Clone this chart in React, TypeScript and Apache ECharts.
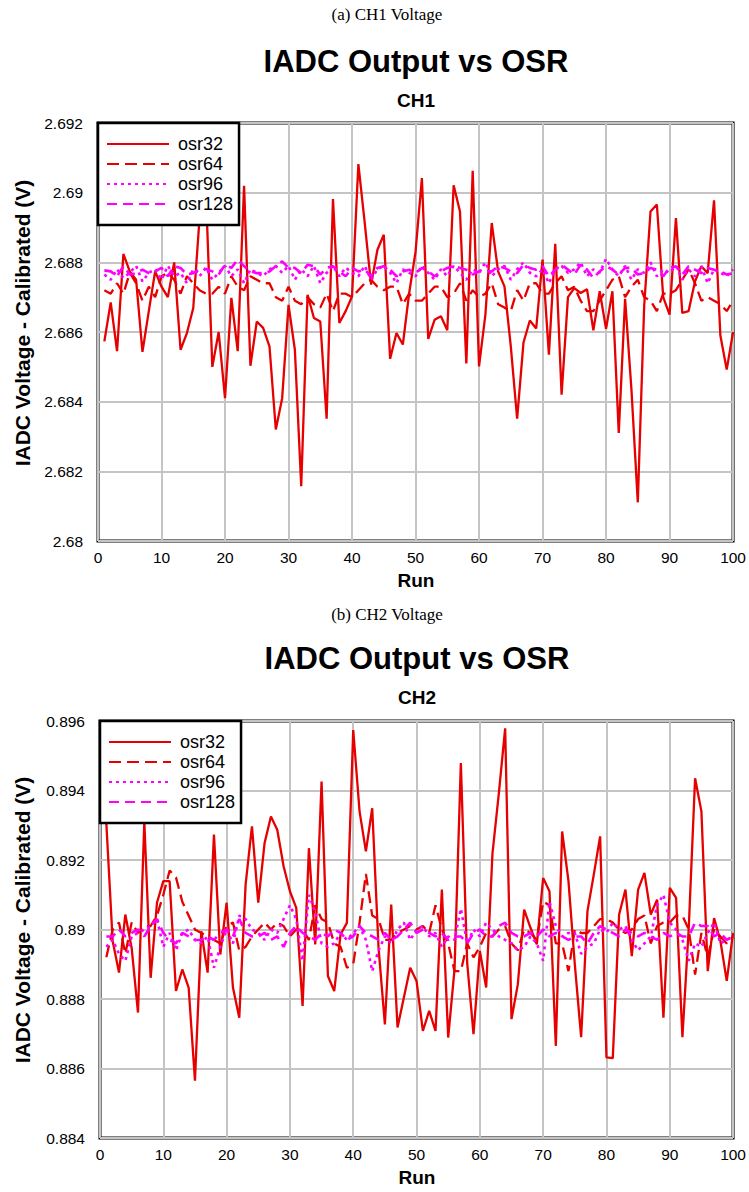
import React, { useEffect, useRef } from "react";
import * as echarts from "echarts";

const runs: number[] = Array.from({ length: 100 }, (_, i) => i + 1);
const seriesNames = ["osr32", "osr64", "osr96", "osr128"];
const xTicks = { min: 0, max: 100, interval: 10 };
const ch1Range = { min: 2.68, max: 2.692, interval: 0.002 };
const ch2Range = { min: 0.884, max: 0.896, interval: 0.002 };

const ch1Osr32 = [
  2.68573, 2.68685, 2.68545, 2.68824, 2.68774, 2.6875, 2.68543, 2.6866, 2.68774, 2.6873,
  2.687, 2.688, 2.68549, 2.68597, 2.68669, 2.6893, 2.69, 2.685, 2.686, 2.6841,
  2.68698, 2.68545, 2.6902, 2.68503, 2.6863, 2.68612, 2.68559, 2.6832, 2.6841, 2.68678,
  2.68549, 2.68157, 2.68707, 2.6864, 2.6863, 2.68351, 2.68982, 2.68626, 2.6866, 2.68702,
  2.69082, 2.68913, 2.68736, 2.68836, 2.68879, 2.68523, 2.68597, 2.68564, 2.68712, 2.6883,
  2.69042, 2.6858, 2.68635, 2.68645, 2.68605, 2.69021, 2.68946, 2.6851, 2.69063, 2.68501,
  2.6865, 2.68913, 2.68774, 2.68731, 2.68559, 2.68351, 2.6857, 2.68633, 2.6861, 2.68808,
  2.68535, 2.68853, 2.6842, 2.687, 2.68726, 2.68712, 2.68723, 2.68605, 2.68717, 2.68609,
  2.68717, 2.6831, 2.68695, 2.68434, 2.68111, 2.68674, 2.68946, 2.68966, 2.687, 2.6865,
  2.68927, 2.68655, 2.6866, 2.68745, 2.68789, 2.68769, 2.68978, 2.6859, 2.68492, 2.686,
];
const ch1Osr64 = [
  2.6872, 2.6871, 2.6874, 2.6871, 2.6877, 2.6874, 2.6869, 2.6873, 2.687, 2.6876,
  2.6877, 2.6875, 2.6871, 2.6876, 2.6874, 2.6872, 2.6871, 2.6871, 2.6873, 2.6871,
  2.6876, 2.6873, 2.6872, 2.6876, 2.6875, 2.6874, 2.6874, 2.687, 2.6869, 2.6873,
  2.6869, 2.6868, 2.687, 2.6868, 2.6867, 2.6871, 2.6866, 2.6871, 2.6871, 2.687,
  2.6872, 2.6874, 2.6875, 2.6873, 2.6872, 2.6873, 2.6873, 2.6868, 2.6871, 2.6869,
  2.6869, 2.6871, 2.6873, 2.6873, 2.687, 2.6871, 2.6874, 2.6869, 2.6872, 2.687,
  2.6871, 2.6874, 2.6868, 2.6867, 2.6866, 2.6872, 2.6869, 2.6874, 2.6874, 2.6871,
  2.6871, 2.6874, 2.6876, 2.6872, 2.6873, 2.6869, 2.6866, 2.6866, 2.6869, 2.6872,
  2.6875, 2.6876, 2.687, 2.6873, 2.6875, 2.687, 2.6869, 2.6866, 2.6871, 2.6871,
  2.6872, 2.6875, 2.6878, 2.6874, 2.6869, 2.687, 2.6869, 2.6868, 2.6866, 2.6869,
];
const ch1Osr96 = [
  2.68765, 2.6875, 2.6878, 2.68755, 2.6877, 2.6879, 2.68745, 2.6877, 2.6878, 2.6875,
  2.6879, 2.6876, 2.6877, 2.6874, 2.6878, 2.6876, 2.68785, 2.6875, 2.6877, 2.6879,
  2.6876, 2.6878, 2.6874, 2.6878, 2.6877, 2.6876, 2.6878, 2.6879, 2.6877, 2.6879,
  2.6875, 2.6878, 2.6876, 2.6879, 2.6874, 2.6877, 2.6879, 2.6876, 2.68785, 2.6877,
  2.6876, 2.6879, 2.6875, 2.6878, 2.6879, 2.6877, 2.6874, 2.6878, 2.6877, 2.6876,
  2.6879, 2.6877, 2.6875, 2.6878, 2.6876, 2.6879, 2.6877, 2.6875, 2.6878, 2.6877,
  2.688, 2.6876, 2.6878, 2.6879, 2.6875, 2.6878, 2.688, 2.6877, 2.6876, 2.6878,
  2.6874, 2.6878, 2.6879, 2.6877, 2.6878, 2.688, 2.6876, 2.6878, 2.6877, 2.6881,
  2.6878, 2.6876, 2.6879, 2.6875, 2.6878, 2.6877, 2.688, 2.6876, 2.6878, 2.6877,
  2.6879, 2.6875, 2.6878, 2.6876, 2.6879, 2.6874, 2.6878, 2.6877, 2.6876, 2.6878,
];
const ch1Osr128 = [
  2.68777, 2.68774, 2.6876, 2.68789, 2.68765, 2.68769, 2.68779, 2.68769, 2.68774, 2.68784,
  2.6876, 2.68789, 2.68784, 2.68765, 2.68769, 2.68779, 2.68781, 2.68774, 2.68765, 2.68793,
  2.68784, 2.68808, 2.68789, 2.68774, 2.68769, 2.68769, 2.68774, 2.68789, 2.68803, 2.68784,
  2.68784, 2.68769, 2.68793, 2.68789, 2.68765, 2.68784, 2.68789, 2.68774, 2.6876, 2.68784,
  2.68774, 2.68779, 2.6876, 2.68784, 2.68789, 2.68779, 2.6876, 2.68774, 2.68779, 2.68769,
  2.68784, 2.68774, 2.6876, 2.68774, 2.68784, 2.68789, 2.68784, 2.68779, 2.68765, 2.68774,
  2.68774, 2.68774, 2.68789, 2.68784, 2.68774, 2.68769, 2.68793, 2.68784, 2.68779, 2.68789,
  2.6876, 2.68779, 2.68793, 2.68779, 2.68765, 2.68793, 2.68779, 2.68755, 2.68774, 2.68789,
  2.68779, 2.68765, 2.68784, 2.68784, 2.68765, 2.68769, 2.68784, 2.68779, 2.6876, 2.68784,
  2.68789, 2.68765, 2.68789, 2.68779, 2.68769, 2.68784, 2.68779, 2.68774, 2.68765, 2.68769,
];

const ch2Osr32 = [
  0.89306, 0.88967, 0.88876, 0.89043, 0.88947, 0.88761, 0.89311, 0.88861, 0.89077, 0.89139,
  0.89139, 0.88823, 0.88885, 0.88833, 0.88565, 0.88995, 0.88876, 0.89273, 0.88928, 0.89077,
  0.88833, 0.88746, 0.89129, 0.89297, 0.89077, 0.89249, 0.89325, 0.89287, 0.89182, 0.8911,
  0.89062, 0.8878, 0.89234, 0.88957, 0.89426, 0.88866, 0.88823, 0.88986, 0.89019, 0.89574,
  0.8934, 0.89225, 0.89349, 0.88947, 0.88727, 0.89072, 0.88718, 0.88804, 0.8889, 0.88852,
  0.88708, 0.88766, 0.88708, 0.89115, 0.88689, 0.88885, 0.89479, 0.88904, 0.88699, 0.88938,
  0.88833, 0.8922, 0.89392, 0.89579, 0.88742, 0.88842, 0.89057, 0.89005, 0.88957, 0.89148,
  0.8911, 0.88665, 0.89282, 0.89139, 0.889, 0.8869, 0.89053, 0.89158, 0.89268, 0.88632,
  0.8863, 0.89043, 0.89115, 0.88923, 0.89115, 0.89163, 0.89043, 0.89086, 0.88746, 0.8912,
  0.89091, 0.8869, 0.89005, 0.89435, 0.8934, 0.8888, 0.89033, 0.88967, 0.88852, 0.8899,
];
const ch2Osr64 = [
  0.8892, 0.89, 0.8902, 0.8893, 0.8902, 0.8899, 0.8901, 0.8901, 0.8904, 0.891,
  0.8917, 0.8915, 0.8908, 0.8904, 0.89, 0.8899, 0.8898, 0.8897, 0.8896, 0.8901,
  0.8902, 0.8894, 0.8895, 0.8898, 0.89, 0.8902, 0.89, 0.8902, 0.8901, 0.8898,
  0.89, 0.89, 0.8897, 0.8907, 0.8903, 0.8902, 0.8896, 0.8895, 0.8889, 0.889,
  0.8902, 0.8916, 0.8904, 0.8903, 0.8897, 0.8897, 0.8899, 0.89, 0.8901, 0.89,
  0.8901, 0.8899, 0.8907, 0.89, 0.8896, 0.8888, 0.8888, 0.8896, 0.8892, 0.8895,
  0.8899, 0.8898, 0.89, 0.8901, 0.8896, 0.8894, 0.89, 0.8899, 0.8897, 0.8908,
  0.8907, 0.8896, 0.8896, 0.8888, 0.89, 0.8899, 0.8899, 0.8901, 0.8903, 0.8903,
  0.8902, 0.89, 0.8899, 0.89, 0.8903, 0.8904, 0.8896, 0.8901, 0.8902, 0.8902,
  0.8904, 0.8904, 0.89, 0.8887, 0.8899, 0.8892, 0.89, 0.8898, 0.8896, 0.8898,
];
const ch2Osr96 = [
  0.8895, 0.8897, 0.8893, 0.8891, 0.8898, 0.8899, 0.89, 0.8901, 0.8903, 0.8895,
  0.8899, 0.8894, 0.8899, 0.89, 0.8897, 0.8896, 0.8898, 0.8889, 0.8895, 0.89,
  0.8896, 0.8904, 0.8903, 0.89, 0.8899, 0.8897, 0.89, 0.8899, 0.8903, 0.8907,
  0.8903, 0.8891, 0.891, 0.8905, 0.8896, 0.8895, 0.8896, 0.8899, 0.8897, 0.8899,
  0.8901, 0.8897, 0.8888, 0.8894, 0.8898, 0.8896, 0.89, 0.8902, 0.8897, 0.89,
  0.8901, 0.8898, 0.8899, 0.8895, 0.8898, 0.8897, 0.8906, 0.8896, 0.89, 0.8898,
  0.8902, 0.89, 0.8898, 0.8897, 0.8896, 0.8894, 0.8895, 0.8898, 0.8896, 0.8891,
  0.8908, 0.8901, 0.8898, 0.8899, 0.8899, 0.8893, 0.8895, 0.8896, 0.89, 0.8899,
  0.8902, 0.89, 0.8901, 0.8897, 0.8894, 0.8896, 0.8898, 0.8907, 0.891, 0.8902,
  0.89, 0.8897, 0.8891, 0.8896, 0.8895, 0.8899, 0.8902, 0.8896, 0.8897, 0.8898,
];
const ch2Osr128 = [
  0.8898, 0.8898, 0.89, 0.8898, 0.8899, 0.89, 0.8898, 0.8901, 0.8903, 0.8899,
  0.8897, 0.8896, 0.8899, 0.8898, 0.8897, 0.8897, 0.8898, 0.8897, 0.8899, 0.89,
  0.8898, 0.8903, 0.8899, 0.8898, 0.8898, 0.8899, 0.8897, 0.8898, 0.8895, 0.8899,
  0.8901, 0.8899, 0.8898, 0.8897, 0.8899, 0.8898, 0.89, 0.8899, 0.8897, 0.8898,
  0.8901, 0.8899, 0.8898, 0.8897, 0.8899, 0.8897, 0.8898, 0.89, 0.8902, 0.8899,
  0.89, 0.8899, 0.8898, 0.8899, 0.8897, 0.8898, 0.8898, 0.8896, 0.8899, 0.89,
  0.8898, 0.8898, 0.8901, 0.8902, 0.8899, 0.8898, 0.8898, 0.8899, 0.8898, 0.89,
  0.8898, 0.8899, 0.8898, 0.8897, 0.8898, 0.8898, 0.8896, 0.8899, 0.8901, 0.89,
  0.8899, 0.8898, 0.89, 0.8899, 0.8898, 0.8899, 0.8898, 0.8897, 0.8899, 0.8898,
  0.8899, 0.8898, 0.8898, 0.8902, 0.8901, 0.8901, 0.8898, 0.8899, 0.8897, 0.8898,
];

const SANS = '"Liberation Sans", Arial, sans-serif';
const SERIF = '"Liberation Serif", "Times New Roman", serif';
const RED = "#e60000";
const MAGENTA = "#ff00ff";

const styles = [
  { color: RED, width: 2.3, type: "solid" as any },
  { color: RED, width: 2.3, type: [12, 6] as any },
  { color: MAGENTA, width: 2.6, type: [3, 4] as any },
  { color: MAGENTA, width: 2.6, type: [10, 6] as any },
];

function pairs(vals: number[]) {
  return runs.map((r, i) => [r, vals[i]]);
}

function fmt(v: number) {
  return String(parseFloat(v.toFixed(3)));
}

export default function App() {
  const ref = useRef<HTMLDivElement>(null);
  useEffect(() => {
    if (!ref.current) return;
    const chart = echarts.init(ref.current, undefined, { renderer: "svg" });
    const grids = [
      { left: 98, top: 123, width: 637, height: 418 },
      { left: 100, top: 721, width: 635, height: 417 },
    ];
    const ranges = [ch1Range, ch2Range];
    const data = [
      [ch1Osr32, ch1Osr64, ch1Osr96, ch1Osr128],
      [ch2Osr32, ch2Osr64, ch2Osr96, ch2Osr128],
    ];
    const series: any[] = [];
    data.forEach((group, gi) => {
      group.forEach((vals, si) => {
        series.push({
          type: "line",
          name: seriesNames[si],
          xAxisIndex: gi,
          yAxisIndex: gi,
          data: pairs(vals),
          showSymbol: false,
          symbol: "none",
          lineStyle: {
            color: styles[si].color,
            width: styles[si].width,
            type: styles[si].type,
          },
          itemStyle: { color: styles[si].color },
          z: 3,
        });
      });
    });
    const texts: any[] = [];
    const addText = (x: number, y: number, text: string, font: string, rotation = 0) =>
      texts.push({
        type: "text",
        x,
        y,
        rotation,
        style: { text, font, fill: "#000", align: "center", verticalAlign: "middle" },
      });
    addText(387, 14, "(a) CH1 Voltage", `17px ${SERIF}`);
    addText(416, 61, "IADC Output vs OSR", `bold 31px ${SANS}`);
    addText(416, 100, "CH1", `bold 19px ${SANS}`);
    addText(416, 580, "Run", `bold 19px ${SANS}`);
    addText(22, 323, "IADC Voltage - Calibrated (V)", `bold 21px ${SANS}`, Math.PI / 2);
    addText(387, 614, "(b) CH2 Voltage", `17px ${SERIF}`);
    addText(417, 658, "IADC Output vs OSR", `bold 31px ${SANS}`);
    addText(417, 697, "CH2", `bold 19px ${SANS}`);
    addText(417, 1177, "Run", `bold 19px ${SANS}`);
    addText(22, 920, "IADC Voltage - Calibrated (V)", `bold 21px ${SANS}`, Math.PI / 2);

    const legendBase = {
      orient: "vertical",
      data: seriesNames,
      itemWidth: 62,
      itemHeight: 14,
      itemGap: 2,
      padding: [12, 6, 12, 8],
      backgroundColor: "#fff",
      borderColor: "#000",
      borderWidth: 2.5,
      borderRadius: 0,
      selectedMode: false,
      z: 10,
      itemStyle: { opacity: 0 },
      textStyle: { fontFamily: SANS, fontSize: 18, color: "#000", padding: [0, 0, 0, 4] },
    };

    chart.setOption({
      animation: false,
      backgroundColor: "#fff",
      grid: grids.map((g) => ({
        ...g,
        show: true,
        borderColor: "#000",
        borderWidth: 3,
        backgroundColor: "transparent",
        containLabel: false,
      })),
      legend: [
        { ...legendBase, left: 98, top: 123 },
        { ...legendBase, left: 100, top: 721 },
      ],
      xAxis: grids.map((_, gi) => ({
        type: "value",
        gridIndex: gi,
        min: xTicks.min,
        max: xTicks.max,
        interval: xTicks.interval,
        axisLine: { show: false },
        axisTick: { show: false },
        splitLine: { show: true, lineStyle: { color: "#c4c4c4", width: 2 } },
        axisLabel: { fontFamily: SANS, fontSize: 15.5, color: "#000", margin: 8 },
      })),
      yAxis: grids.map((_, gi) => ({
        type: "value",
        gridIndex: gi,
        min: ranges[gi].min,
        max: ranges[gi].max,
        interval: ranges[gi].interval,
        axisLine: { show: false },
        axisTick: { show: false },
        splitLine: { show: true, lineStyle: { color: "#c4c4c4", width: 2 } },
        axisLabel: {
          fontFamily: SANS,
          fontSize: 15.5,
          color: "#000",
          margin: 15,
          formatter: (v: number) => fmt(v),
        },
      })),
      series,
      graphic: texts,
    });
    return () => chart.dispose();
  }, []);
  return (
    <div
      ref={ref}
      style={{ position: "absolute", left: 0, top: 0, width: 749, height: 1192 }}
    />
  );
}
